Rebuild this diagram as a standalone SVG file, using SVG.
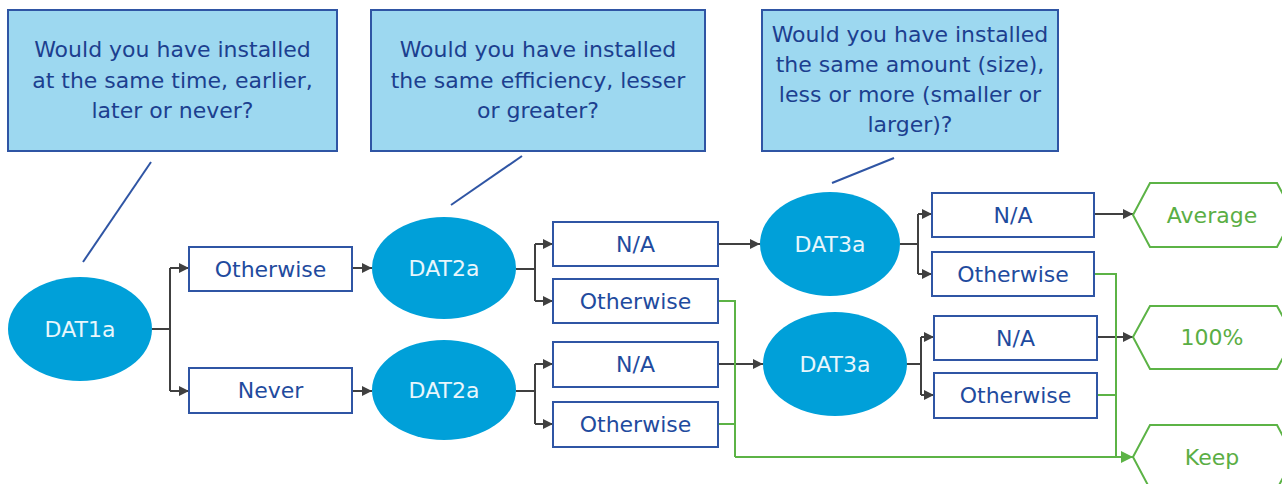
<svg xmlns="http://www.w3.org/2000/svg" width="1282" height="484" viewBox="0 0 1282 484">
<defs>
<style>
text{font-family:"DejaVu Sans","Noto Sans",sans-serif;font-size:22px;text-anchor:middle}
.call rect{fill:#9dd8f0;stroke:#2f55a4;stroke-width:2}
.call text{fill:#1c3f8f}
.ell ellipse{fill:#00a0d9}
.ell text{fill:#e8f6fc}
.box rect{fill:#fff;stroke:#2f55a4;stroke-width:2}
.box text{fill:#1f4b9e}
.hex polygon{fill:#fff;stroke:#5cb346;stroke-width:2}
.hex text{fill:#5aae44}
.ptr{stroke:#2f55a4;stroke-width:2;fill:none}
.k{stroke:#404040;stroke-width:2;fill:none}
.g{stroke:#5cb346;stroke-width:2;fill:none}
</style>
<marker id="ak" viewBox="0 0 10 10" refX="10" refY="5" markerWidth="10" markerHeight="10" markerUnits="userSpaceOnUse" orient="auto"><path d="M0,0 L10,5 L0,10 z" fill="#404040"/></marker>
<marker id="ag" viewBox="0 0 10 10" refX="10" refY="5" markerWidth="12" markerHeight="12" markerUnits="userSpaceOnUse" orient="auto"><path d="M0,0 L10,5 L0,10 z" fill="#5cb346"/></marker>
</defs>

<g id="callout1" class="call"><rect x="8" y="10" width="329" height="141"/>
<text x="172.5" y="57">Would you have installed</text><text x="172.5" y="88">at the same time, earlier,</text><text x="172.5" y="118">later or never?</text></g>
<g id="callout2" class="call"><rect x="371" y="10" width="334" height="141"/>
<text x="538" y="57">Would you have installed</text><text x="538" y="88">the same efficiency, lesser</text><text x="538" y="118">or greater?</text></g>
<g id="callout3" class="call"><rect x="762" y="10" width="296" height="141"/>
<text x="910" y="42">Would you have installed</text><text x="910" y="72">the same amount (size),</text><text x="910" y="102">less or more (smaller or</text><text x="910" y="132">larger)?</text></g>

<g id="connectors">
<line class="ptr" x1="151" y1="162" x2="83" y2="262"/>
<line class="ptr" x1="522" y1="156" x2="451" y2="205"/>
<line class="ptr" x1="894" y1="158" x2="832" y2="183"/>
<path class="k" d="M152,329 H170"/>
<path class="k" d="M170,268 V391"/>
<path class="k" d="M170,268 H189" marker-end="url(#ak)"/>
<path class="k" d="M170,391 H189" marker-end="url(#ak)"/>
<path class="k" d="M352,268 H372" marker-end="url(#ak)"/>
<path class="k" d="M352,391 H372" marker-end="url(#ak)"/>
<path class="k" d="M516,269 H535 M535,244 V301"/>
<path class="k" d="M535,244 H553" marker-end="url(#ak)"/>
<path class="k" d="M535,301 H553" marker-end="url(#ak)"/>
<path class="k" d="M516,391 H535 M535,364 V424"/>
<path class="k" d="M535,364 H553" marker-end="url(#ak)"/>
<path class="k" d="M535,424 H553" marker-end="url(#ak)"/>
<path class="k" d="M718,244 H760" marker-end="url(#ak)"/>
<path class="k" d="M718,364 H763" marker-end="url(#ak)"/>
<path class="k" d="M900,244 H918 M918,214 V274"/>
<path class="k" d="M918,214 H932" marker-end="url(#ak)"/>
<path class="k" d="M918,274 H932" marker-end="url(#ak)"/>
<path class="k" d="M906,364 H921 M921,337 V395"/>
<path class="k" d="M921,337 H934" marker-end="url(#ak)"/>
<path class="k" d="M921,395 H934" marker-end="url(#ak)"/>
<path class="k" d="M1094,214 H1133" marker-end="url(#ak)"/>
<path class="k" d="M1097,337 H1133" marker-end="url(#ak)"/>
<path class="g" d="M718,301 H735 V457"/>
<path class="g" d="M718,424 H735"/>
<path class="g" d="M1094,274 H1116 V457"/>
<path class="g" d="M1097,395 H1116"/>
<path class="g" d="M735,457 H1133" marker-end="url(#ag)"/>
</g>

<g id="dat1a" class="ell"><ellipse cx="80" cy="329" rx="72" ry="52"/><text x="80" y="337">DAT1a</text></g>
<g id="otherwise1" class="box"><rect x="189" y="247" width="163" height="44"/><text x="270.5" y="277">Otherwise</text></g>
<g id="never1" class="box"><rect x="189" y="368" width="163" height="45"/><text x="270.5" y="398">Never</text></g>
<g id="dat2a-top" class="ell"><ellipse cx="444" cy="268" rx="72" ry="51"/><text x="444" y="276">DAT2a</text></g>
<g id="dat2a-bottom" class="ell"><ellipse cx="444" cy="390" rx="72" ry="50"/><text x="444" y="398">DAT2a</text></g>
<g id="na2-top" class="box"><rect x="553" y="222" width="165" height="44"/><text x="635.5" y="252">N/A</text></g>
<g id="otherwise2-top" class="box"><rect x="553" y="279" width="165" height="44"/><text x="635.5" y="309">Otherwise</text></g>
<g id="na2-bottom" class="box"><rect x="553" y="342" width="165" height="45"/><text x="635.5" y="372">N/A</text></g>
<g id="otherwise2-bottom" class="box"><rect x="553" y="402" width="165" height="45"/><text x="635.5" y="432">Otherwise</text></g>
<g id="dat3a-top" class="ell"><ellipse cx="830" cy="244" rx="70" ry="52"/><text x="830" y="252">DAT3a</text></g>
<g id="dat3a-bottom" class="ell"><ellipse cx="835" cy="364" rx="72" ry="52"/><text x="835" y="372">DAT3a</text></g>
<g id="na3-top" class="box"><rect x="932" y="193" width="162" height="44"/><text x="1013" y="223">N/A</text></g>
<g id="otherwise3-top" class="box"><rect x="932" y="252" width="162" height="44"/><text x="1013" y="282">Otherwise</text></g>
<g id="na3-bottom" class="box"><rect x="934" y="316" width="163" height="44"/><text x="1015.5" y="346">N/A</text></g>
<g id="otherwise3-bottom" class="box"><rect x="934" y="373" width="163" height="45"/><text x="1015.5" y="403">Otherwise</text></g>
<g id="average" class="hex"><polygon points="1133,215 1150,183 1277,183 1294,215 1277,247 1150,247"/><text x="1212" y="223">Average</text></g>
<g id="p100" class="hex"><polygon points="1133,337 1150,306 1277,306 1294,337 1277,369 1150,369"/><text x="1212" y="345">100%</text></g>
<g id="keep" class="hex"><polygon points="1133,457 1150,425 1277,425 1294,457 1277,489 1150,489"/><text x="1212" y="465">Keep</text></g>
</svg>
